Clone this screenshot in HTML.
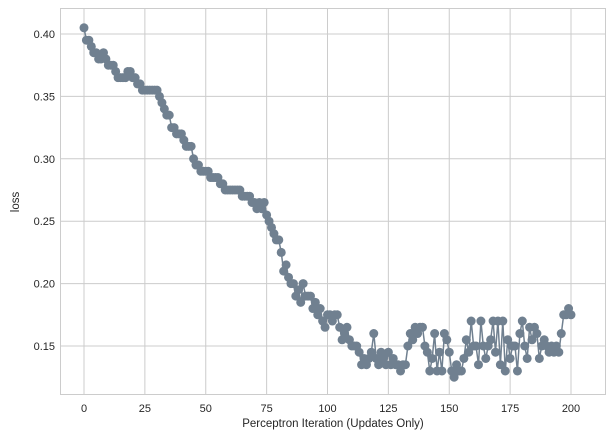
<!DOCTYPE html>
<html><head><meta charset="utf-8"><style>
html,body{margin:0;padding:0;background:#fff;}
svg{display:block;font-family:"Liberation Sans",Arial,sans-serif;}
</style></head><body>
<svg id="s" width="612" height="439" viewBox="0 0 612 439" xmlns="http://www.w3.org/2000/svg">
<rect width="612" height="439" fill="#fff"/>
<g id="grid" stroke="#cccccc" stroke-width="1"></g>
<rect x="60.5" y="8.5" width="545" height="386" fill="none" stroke="#cccccc" stroke-width="1"/>
<g id="series"></g>
<g id="labels" font-size="11" fill="#262626"></g>
<text x="333" y="427" font-size="11.5" text-anchor="middle" fill="#262626">Perceptron Iteration (Updates Only)</text>
<text transform="translate(19,202) rotate(-90)" font-size="11.5" text-anchor="middle" fill="#262626">loss</text>
</svg>
<script>
var NS="http://www.w3.org/2000/svg";
function X(i){return 84+i*2.435;}
function Y(v){return 34+(0.40-v)*1248;}
function el(p,t,a,txt){var e=document.createElementNS(NS,t);for(var k in a)e.setAttribute(k,a[k]);if(txt!==undefined)e.textContent=txt;p.appendChild(e);return e;}
var g=document.getElementById('grid'),lb=document.getElementById('labels');
for(var t=0;t<=200;t+=25){var x=X(t);el(g,'line',{x1:x,x2:x,y1:9,y2:394});el(lb,'text',{x:x,y:412,'text-anchor':'middle'},String(t));}
[0.15,0.20,0.25,0.30,0.35,0.40].forEach(function(v){var y=Y(v);el(g,'line',{x1:61,x2:605,y1:y,y2:y});el(lb,'text',{x:55,y:y+4,'text-anchor':'end'},v.toFixed(2));});
var d=[0.405,0.395,0.395,0.39,0.385,0.385,0.38,0.38,0.385,0.38,0.375,0.375,0.375,0.37,0.365,0.365,0.365,0.365,0.37,0.37,0.365,0.365,0.36,0.36,0.355,0.355,0.355,0.355,0.355,0.355,0.355,0.35,0.345,0.34,0.335,0.335,0.325,0.325,0.32,0.32,0.32,0.315,0.31,0.31,0.31,0.30,0.295,0.295,0.29,0.29,0.29,0.29,0.285,0.285,0.285,0.285,0.28,0.28,0.275,0.275,0.275,0.275,0.275,0.275,0.275,0.27,0.27,0.27,0.27,0.265,0.265,0.26,0.265,0.26,0.265,0.255,0.25,0.245,0.24,0.235,0.235,0.225,0.21,0.215,0.205,0.20,0.20,0.19,0.195,0.185,0.20,0.19,0.19,0.19,0.18,0.185,0.175,0.18,0.17,0.165,0.175,0.175,0.17,0.175,0.175,0.165,0.155,0.16,0.165,0.155,0.15,0.15,0.15,0.145,0.135,0.14,0.135,0.14,0.145,0.16,0.14,0.135,0.145,0.14,0.135,0.145,0.135,0.14,0.135,0.135,0.13,0.135,0.135,0.15,0.16,0.155,0.165,0.16,0.165,0.165,0.15,0.145,0.13,0.14,0.16,0.13,0.145,0.13,0.16,0.155,0.145,0.13,0.125,0.135,0.13,0.13,0.14,0.155,0.145,0.17,0.15,0.15,0.135,0.17,0.15,0.14,0.15,0.155,0.17,0.145,0.17,0.135,0.17,0.13,0.155,0.14,0.15,0.15,0.13,0.16,0.17,0.15,0.14,0.165,0.155,0.165,0.16,0.14,0.15,0.155,0.15,0.145,0.15,0.145,0.15,0.145,0.16,0.175,0.175,0.18,0.175];
var s=document.getElementById('series'),pts=[];
for(var i=0;i<d.length;i++)pts.push(X(i).toFixed(1)+','+Y(d[i]).toFixed(1));
el(s,'polyline',{points:pts.join(' '),fill:'none',stroke:'#708090','stroke-width':1.5});
for(var i=0;i<d.length;i++)el(s,'circle',{cx:X(i),cy:Y(d[i]),r:4.5,fill:'#708090'});
</script>
</body></html>
